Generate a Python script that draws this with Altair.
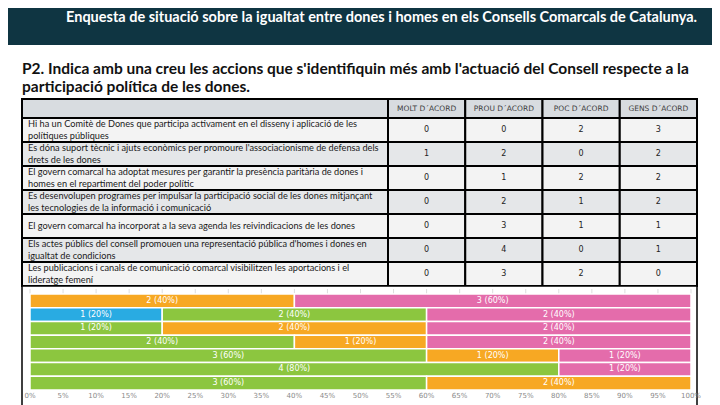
import altair as alt
import pandas as pd

# ---------------- data ----------------
title_text = "Enquesta de situació sobre la igualtat entre dones i homes en els Consells Comarcals de Catalunya."
question_text = ("P2. Indica amb una creu les accions que s'identifiquin més amb l'actuació del Consell respecte a la\n"
                 "participació política de les dones.")
actions = [
    "Hi ha un Comitè de Dones que participa activament en el disseny i aplicació de les\npolítiques públiques",
    "Es dóna suport tècnic i ajuts econòmics per promoure l'associacionisme de defensa dels\ndrets de les dones",
    "El govern comarcal ha adoptat mesures per garantir la presència paritària de dones i\nhomes en el repartiment del poder polític",
    "Es desenvolupen programes per impulsar la participació social de les dones mitjançant\nles tecnologies de la informació i comunicació",
    "El govern comarcal ha incorporat a la seva agenda les reivindicacions de les dones",
    "Els actes públics del consell promouen una representació pública d'homes i dones en\nigualtat de condicions",
    "Les publicacions i canals de comunicació comarcal visibilitzen les aportacions i el\nlideratge femení",
]
categories = ["MOLT D´ACORD", "PROU D´ACORD", "POC D´ACORD", "GENS D´ACORD"]
molt = [0, 1, 0, 0, 0, 0, 0]
prou = [0, 2, 1, 2, 3, 4, 3]
poc = [2, 0, 2, 1, 1, 0, 2]
gens = [3, 2, 2, 2, 1, 1, 0]
cat_colors = ["#29abe2", "#8cc63f", "#f7a823", "#e46cab"]
tick_values = [0, 5, 10, 15, 20, 25, 30, 35, 40, 45, 50, 55, 60, 65, 70, 75, 80, 85, 90, 95, 100]

# ---------------- tables ----------------
series = [molt, prou, poc, gens]
rows = []
for r, act in enumerate(actions):
    for ci, cat in enumerate(categories):
        rows.append({"row": r, "category": cat, "ci": ci,
                     "count": series[ci][r], "shade": "a" if r % 2 == 0 else "b"})
long_df = pd.DataFrame(rows)
act_df = pd.DataFrame({"row": list(range(len(actions))),
                       "shade": ["a" if r % 2 == 0 else "b" for r in range(len(actions))]})
line_rows = []
for r, act in enumerate(actions):
    parts = act.split("\n")
    for i, p in enumerate(parts):
        line_rows.append({"row": r, "line": p, "i": i, "n": len(parts)})
line_df = pd.DataFrame(line_rows)
cat_df = pd.DataFrame({"category": categories})
tick_df = pd.DataFrame({"pct": tick_values})
tick_df["lab"] = tick_df["pct"].astype(str) + "%"
one = pd.DataFrame({"t": [title_text], "q": [question_text]})

W, H = 704, 397
row_domain = list(range(len(actions)))
shade_scale = alt.Scale(domain=["a", "b"], range=["#f3f3f3", "#e5e7e9"])
col_x = alt.X("category:N", sort=categories, scale=alt.Scale(domain=categories, range=[380, 689], paddingInner=0, paddingOuter=0), axis=None)
row_y = alt.Y("row:O", scale=alt.Scale(domain=row_domain, range=[110, 278], paddingInner=0, paddingOuter=0), axis=None)

header = alt.Chart(one).mark_rect(color="#0f3542").encode(
    x=alt.value(0), x2=alt.value(W), y=alt.value(0), y2=alt.value(37))
header_text = alt.Chart(one).mark_text(align="right", baseline="middle", color="white",
                                       font="Lato", fontSize=14.5, fontWeight="bold").encode(
    text="t:N", x=alt.value(689), y=alt.value(10))
question = alt.Chart(one).mark_text(align="left", baseline="top", color="#111111", lineBreak="\n",
                                    font="Lato", fontSize=15.5, fontWeight="bold", lineHeight=18).encode(
    text="q:N", x=alt.value(14), y=alt.value(54))

head_label_cell = alt.Chart(one).mark_rect(fill="#d8dce0", stroke="black", strokeWidth=2).encode(
    x=alt.value(14), x2=alt.value(380), y=alt.value(91), y2=alt.value(110))
head_cells = alt.Chart(cat_df).mark_rect(fill="#d8dce0", stroke="black", strokeWidth=2).encode(
    x=col_x, y=alt.value(91), y2=alt.value(110))
head_text = alt.Chart(cat_df).mark_text(font="DejaVu Sans", fontSize=7.5, color="#404040",
                                        baseline="middle").encode(
    x=col_x, y=alt.value(100.5), text="category:N")

label_cells = alt.Chart(act_df).mark_rect(stroke="black", strokeWidth=2).encode(
    x=alt.value(14), x2=alt.value(380), y=row_y,
    color=alt.Color("shade:N", scale=shade_scale, legend=None))
label_text = alt.Chart(line_df).transform_calculate(
    off="(datum.i - (datum.n - 1) / 2) * 11.5 + 12").mark_text(
    align="left", baseline="middle", font="Lato", fontSize=9.2, color="#1a1a1a").encode(
    x=alt.value(20), y=row_y, yOffset=alt.YOffset("off:Q", scale=None), text="line:N")

value_cells = alt.Chart(long_df).mark_rect(stroke="black", strokeWidth=2).encode(
    x=col_x, y=row_y, color=alt.Color("shade:N", scale=shade_scale, legend=None))
value_text = alt.Chart(long_df).mark_text(font="DejaVu Sans", fontSize=8, color="#222222",
                                          baseline="middle").encode(
    x=col_x, y=row_y, text="count:Q")

border = alt.Chart(one).mark_rect(fill="white", stroke="black", strokeWidth=1.5).encode(
    x=alt.value(14), x2=alt.value(689), y=alt.value(278), y2=alt.value(410))

bx = alt.Scale(domain=[0, 1], range=[22, 683])
by = alt.Y("row:O", scale=alt.Scale(domain=row_domain, range=[286, 382], paddingInner=0, paddingOuter=0), axis=None)
stacked = alt.Chart(long_df).transform_filter("datum.count > 0").transform_joinaggregate(
    total="sum(count)", groupby=["row"]).transform_stack(
    stack="count", groupby=["row"], as_=["x0", "x1"], offset="normalize",
    sort=[alt.SortField("ci", order="ascending")]).transform_calculate(
    mid="(datum.x0 + datum.x1) / 2",
    lab="datum.count + ' (' + round(datum.count / datum.total * 100) + '%)'")
bars = stacked.mark_rect(stroke="white", strokeWidth=1.5).encode(
    x=alt.X("x0:Q", scale=bx, axis=None), x2="x1:Q", y=by,
    color=alt.Color("category:N", scale=alt.Scale(domain=categories, range=cat_colors), legend=None))
bar_text = stacked.mark_text(font="DejaVu Sans", fontSize=8, color="white", baseline="middle").encode(
    x=alt.X("mid:Q", scale=bx, axis=None), y=by, text="lab:N")

tick_scale = alt.Scale(domain=[0, 100], range=[22, 683])
tick_labels = alt.Chart(tick_df).mark_text(font="DejaVu Sans", fontSize=7, color="#8a8a8a",
                                           baseline="middle").encode(
    x=alt.X("pct:Q", scale=tick_scale, axis=None), y=alt.value(387.5), text="lab:N")
tick_marks = alt.Chart(tick_df).mark_rule(color="#dddddd").encode(
    x=alt.X("pct:Q", scale=tick_scale, axis=None), y=alt.value(281), y2=alt.value(286))

chart = alt.layer(
    header, header_text, question,
    head_label_cell, head_cells, label_cells, value_cells,
    head_text, label_text, value_text,
    border, tick_marks, bars, bar_text, tick_labels,
).resolve_scale(x="independent", y="independent", color="independent").properties(
    width=W, height=H, autosize="none", padding=0
).configure_view(stroke=None)

chart.save("out.html", embed_options={"renderer": "svg", "actions": False})
